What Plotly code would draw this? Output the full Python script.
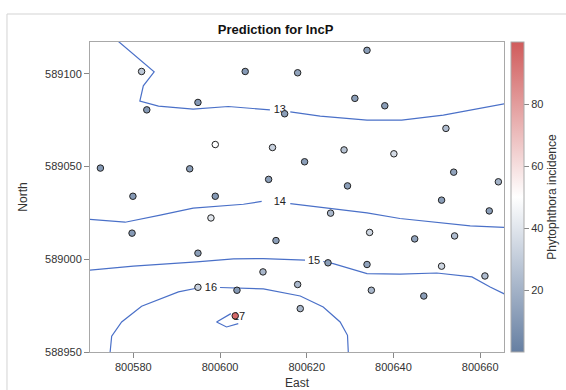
import plotly.graph_objects as go

# Sample locations (East, North) and observed Phytophthora incidence
east = [800633.9, 800581.9, 800605.8, 800617.9, 800631.1, 800638.0, 800594.9, 800583.1,
        800614.9, 800652.1, 800598.9, 800612.1, 800619.5, 800628.6, 800640.1, 800572.4,
        800593.0, 800653.9, 800664.2, 800611.2, 800629.4, 800598.9, 800579.9, 800651.1,
        800662.1, 800597.9, 800625.5, 800634.5, 800579.7, 800644.9, 800654.1, 800612.9,
        800594.9, 800609.9, 800624.9, 800633.9, 800651.1, 800661.1, 800594.9, 800603.9,
        800617.9, 800634.9, 800647.0, 800618.5, 800603.5]
north = [589112.7, 589101.3, 589101.3, 589100.6, 589086.8, 589082.8, 589084.6, 589080.6,
         589078.5, 589070.6, 589061.9, 589060.3, 589052.6, 589059.0, 589056.9, 589049.2,
         589048.8, 589047.0, 589041.8, 589043.1, 589039.6, 589034.0, 589034.0, 589031.9,
         589026.1, 589022.3, 589024.9, 589014.5, 589014.1, 589011.0, 589012.6, 589010.1,
         589003.3, 588993.2, 588998.1, 588997.2, 588996.3, 588991.0, 588984.9, 588983.3,
         588986.4, 588983.3, 588980.2, 588973.4, 588969.5]
incidence = [12, 28, 10, 14, 12, 12, 10, 10,
             12, 24, 50, 32, 12, 26, 36, 10,
             12, 14, 20, 12, 12, 10, 10, 12,
             12, 40, 22, 34, 10, 14, 24, 12,
             12, 22, 12, 14, 34, 24, 32, 10,
             22, 22, 12, 22, 96]

# Prediction contour lines (None marks the break left for the level label)
c13_x = [800576.3, 800584.8, 800582.3, 800581.5, 800585.8, 800593.8, 800601.9, 800611.5, None,
         800616.2, 800623.1, 800633.9, 800641.9, 800651.5, 800657.7, 800666.2]
c13_y = [589118.0, 589101.1, 589093.6, 589085.3, 589082.6, 589081.0, 589082.4, 589080.6, None,
         589079.5, 589077.2, 589075.1, 589075.1, 589077.8, 589080.5, 589084.1]
c14_x = [800569.0, 800578.1, 800586.2, 800593.8, 800605.4, 800609.6, None,
         800616.2, 800625.4, 800633.9, 800641.5, 800650.8, 800657.7, 800666.2]
c14_y = [589021.7, 589020.0, 589023.8, 589027.6, 589029.7, 589031.2, None,
         589030.0, 589027.4, 589025.0, 589022.0, 589019.6, 589018.0, 589017.2]
c15_x = [800569.0, 800580.0, 800594.6, 800603.1, 800610.0, 800616.2, 800619.6, None,
         800623.8, 800626.1, 800633.9, 800641.5, 800650.0, 800658.1, 800662.3, 800666.2]
c15_y = [588993.9, 588996.3, 588998.6, 589000.2, 589000.4, 588999.9, 588999.5, None,
         588998.8, 588997.7, 588992.3, 588992.0, 588992.6, 588990.5, 588985.1, 588980.6]
c16_x = [800574.6, 800575.0, 800577.3, 800581.9, 800590.4, 800595.4, None,
         800600.0, 800610.0, 800618.5, 800623.8, 800627.7, 800629.4, 800629.6]
c16_y = [588949.0, 588958.5, 588966.2, 588974.7, 588982.4, 588984.8, None,
         588984.8, 588984.0, 588980.2, 588974.3, 588966.2, 588959.0, 588949.0]
c17_x = [800602.5, 800599.2, 800601.5, 800604.2]
c17_y = [588970.7, 588966.2, 588963.5, 588965.3]

# Contour level labels
label_text = ["13", "14", "15", "16", "17"]
label_x = [800613.8, 800613.8, 800621.7, 800597.9, 800604.4]
label_y = [589080.2, 589030.8, 588998.8, 588984.6, 588969.0]

line_color = "#4a70c8"
font_family = "Liberation Sans, Arial, sans-serif"

fig = go.Figure()

for cx, cy in [(c13_x, c13_y), (c14_x, c14_y), (c15_x, c15_y), (c16_x, c16_y), (c17_x, c17_y)]:
    fig.add_trace(go.Scatter(x=cx, y=cy, mode="lines", connectgaps=False,
                             line=dict(color=line_color, width=1.2),
                             hoverinfo="skip", showlegend=False))

fig.add_trace(go.Scatter(x=label_x, y=label_y, mode="text", text=label_text,
                         textposition="middle center",
                         textfont=dict(family=font_family, size=11, color="#222222"),
                         hoverinfo="skip", showlegend=False))

fig.add_trace(go.Scatter(
    x=east, y=north, mode="markers", showlegend=False,
    marker=dict(
        size=6.5, color=incidence, cmin=0, cmax=100,
        colorscale=[[0, "#667fa2"], [0.5, "#ffffff"], [1, "#d05b5b"]],
        line=dict(color="#222222", width=1),
        colorbar=dict(
            title=dict(text="Phytophthora incidence", side="right",
                       font=dict(family=font_family, size=12, color="#333333")),
            tickvals=[20, 40, 60, 80], ticks="outside", ticklen=5,
            tickcolor="#888888",
            tickfont=dict(family=font_family, size=11, color="#333333"),
            thickness=13, len=1, lenmode="fraction", y=0.5, yanchor="middle",
            x=1.018, xanchor="left", xpad=0, ypad=0,
            outlinecolor="#aaaaaa", outlinewidth=1,
        ),
    ),
))

axis_common = dict(
    showgrid=False, zeroline=False, showline=True, linecolor="#a8a8a8", linewidth=1,
    mirror=True, ticks="outside", ticklen=5, tickcolor="#888888",
    tickfont=dict(family=font_family, size=11, color="#333333"),
)

fig.update_layout(
    width=566, height=390,
    margin=dict(l=90, r=62, t=42, b=38, autoexpand=False),
    paper_bgcolor="white", plot_bgcolor="white",
    title=dict(text="<b>Prediction for IncP</b>", x=0.4868, xref="container",
               y=0.925, yref="container", yanchor="middle", xanchor="center",
               font=dict(family=font_family, size=13, color="#111111")),
    xaxis=dict(axis_common, range=[800570, 800665.5], tickvals=[800580, 800600, 800620, 800640, 800660],
               tickformat="d", automargin=False,
               title=dict(text="East", standoff=6, font=dict(family=font_family, size=12, color="#333333"))),
    yaxis=dict(axis_common, range=[588950, 589117.2], tickvals=[588950, 589000, 589050, 589100],
               tickformat="d", automargin=False,
               title=dict(text="North", standoff=14, font=dict(family=font_family, size=12, color="#333333"))),
    shapes=[dict(type="rect", xref="paper", yref="paper", x0=-0.2005, x1=1.3, y0=-0.3, y1=1.0903,
                 line=dict(color="#d3d3d3", width=1), fillcolor="rgba(0,0,0,0)", layer="below")],
)

fig.write_html("out.html")
